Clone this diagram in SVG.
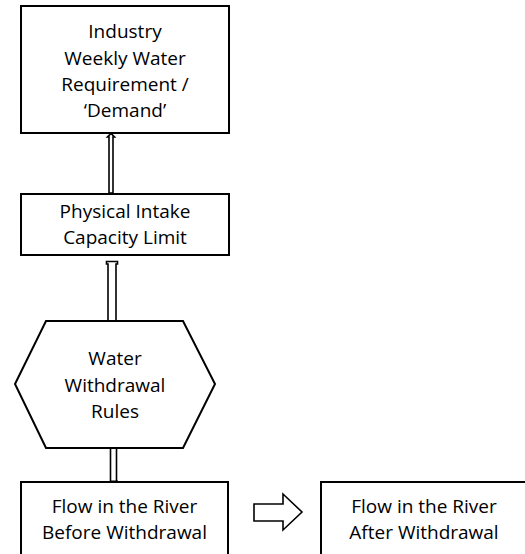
<svg xmlns="http://www.w3.org/2000/svg" width="525" height="554" viewBox="0 0 525 554">
<style>
.box{fill:#fff;stroke:#000;stroke-width:2}
.arr{fill:#fff;stroke:#000;stroke-width:1.6}
text{font-family:"Open Sans","Liberation Sans",sans-serif;font-size:19px;fill:#000;text-anchor:middle}
</style>
<rect width="525" height="554" fill="#fff"/>
<g id="connectors">
<polygon class="arr" points="109,193 109,137 107.5,137 111,133.5 114.5,137 113,137 113,193"/>
<polygon class="arr" points="108,321 108,264 106.5,264 106.5,261.5 117.5,261.5 117.5,264 116,264 116,321"/>
<polygon class="arr" points="110.5,448 110.5,482 116.5,482 116.5,448"/>
<rect x="110" y="480.5" width="8" height="3" fill="#000"/>
<polygon class="arr" points="254,504 283,504 283,494 302,512 283,530 283,521 254,521"/>
</g>
<g id="demand">
<rect class="box" x="21" y="6" width="208" height="127"/>
<text x="125" y="38">Industry</text>
<text x="125" y="64.5">Weekly Water</text>
<text x="125" y="91">Requirement /</text>
<text x="125" y="117">‘Demand’</text>
</g>
<g id="intake">
<rect class="box" x="21" y="194" width="208" height="61"/>
<text x="125" y="217.5">Physical Intake</text>
<text x="125" y="244">Capacity Limit</text>
</g>
<g id="rules">
<polygon class="box" points="46,321 183,321 215,384 183,448 46,448 15,384"/>
<text x="115" y="365">Water</text>
<text x="115" y="392">Withdrawal</text>
<text x="115" y="418">Rules</text>
</g>
<g id="before">
<rect class="box" x="21" y="482" width="207" height="80"/>
<text x="124.5" y="513">Flow in the River</text>
<text x="124.5" y="539">Before Withdrawal</text>
</g>
<g id="after">
<rect class="box" x="321" y="482" width="220" height="80"/>
<text x="424" y="513">Flow in the River</text>
<text x="424" y="539">After Withdrawal</text>
</g>
</svg>
